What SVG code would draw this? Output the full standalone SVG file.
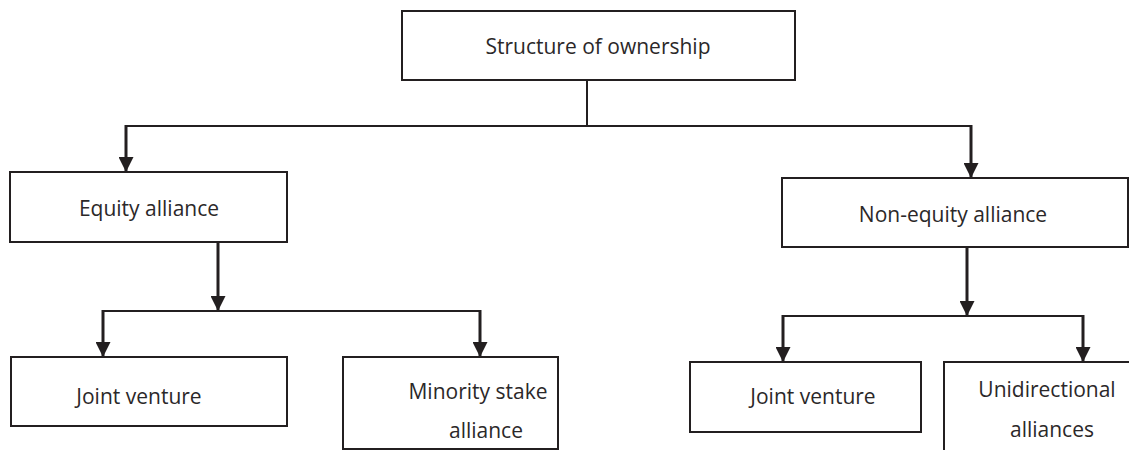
<svg xmlns="http://www.w3.org/2000/svg" width="1129" height="450" viewBox="0 0 1129 450">
  <style>
    .box { fill: #ffffff; stroke: #231f20; stroke-width: 2; }
    .label { font-family: "Open Sans", "Liberation Sans", sans-serif; font-size: 21px; fill: #2b2829; text-anchor: middle; }
    .bar { stroke: #231f20; stroke-width: 2; fill: none; }
    .stem { stroke: #231f20; stroke-width: 3; fill: none; marker-end: url(#head); }
  </style>
  <defs>
    <marker id="head" markerUnits="userSpaceOnUse" markerWidth="15" markerHeight="15" refX="15" refY="7.5" orient="auto">
      <path d="M0,0 L15,7.5 L0,15 Z" fill="#231f20"/>
    </marker>
  </defs>
  <rect width="1129" height="450" fill="#ffffff"/>

  <!-- connectors -->
  <g id="connectors">
    <line class="bar" x1="587" y1="80" x2="587" y2="126"/>
    <line class="bar" x1="125" y1="126" x2="972" y2="126"/>
    <line class="stem" x1="126" y1="125" x2="126" y2="172"/>
    <line class="stem" x1="971" y1="125" x2="971" y2="178"/>

    <line class="stem" x1="218" y1="242" x2="218" y2="311"/>
    <line class="bar" x1="102" y1="311" x2="481" y2="311"/>
    <line class="stem" x1="103" y1="310" x2="103" y2="357"/>
    <line class="stem" x1="480" y1="310" x2="480" y2="357"/>

    <line class="stem" x1="967" y1="247" x2="967" y2="316"/>
    <line class="bar" x1="782" y1="316" x2="1084" y2="316"/>
    <line class="stem" x1="783" y1="315" x2="783" y2="362"/>
    <line class="stem" x1="1083" y1="315" x2="1083" y2="362"/>
  </g>

  <g id="structure-of-ownership">
    <rect class="box" x="402" y="11" width="393" height="69"/>
    <text class="label" x="598" y="54">Structure of ownership</text>
  </g>

  <g id="equity-alliance">
    <rect class="box" x="10" y="172" width="277" height="70"/>
    <text class="label" x="149" y="216">Equity alliance</text>
  </g>

  <g id="non-equity-alliance">
    <rect class="box" x="782" y="178" width="346" height="69"/>
    <text class="label" x="953" y="222">Non-equity alliance</text>
  </g>

  <g id="joint-venture-equity">
    <rect class="box" x="11" y="357" width="276" height="69"/>
    <text class="label" x="139" y="404">Joint venture</text>
  </g>

  <g id="minority-stake-alliance">
    <rect class="box" x="343" y="357" width="215" height="92"/>
    <text class="label" x="478" y="399">Minority stake</text>
    <text class="label" x="486" y="438">alliance</text>
  </g>

  <g id="joint-venture-non-equity">
    <rect class="box" x="690" y="362" width="231" height="70"/>
    <text class="label" x="813" y="404">Joint venture</text>
  </g>

  <g id="unidirectional-alliances">
    <rect class="box" x="944" y="362" width="220" height="110"/>
    <text class="label" x="1047" y="397">Unidirectional</text>
    <text class="label" x="1052" y="437">alliances</text>
  </g>
</svg>
